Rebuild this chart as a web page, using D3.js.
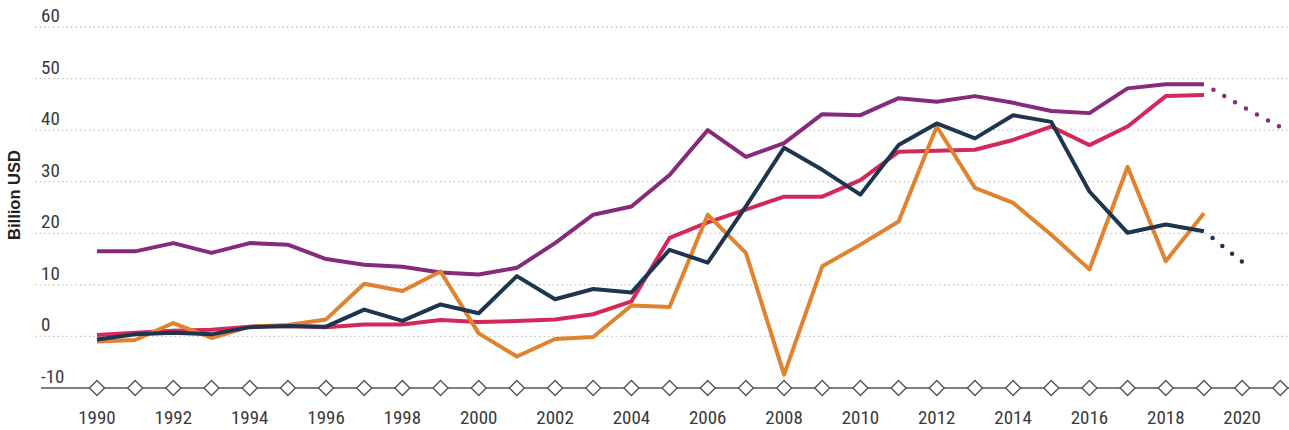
<!DOCTYPE html>
<html><head><meta charset="utf-8">
<script src="https://cdn.jsdelivr.net/npm/d3@7"></script>
<style>
html,body{margin:0;padding:0;background:#fff;}
svg{display:block;}
.lab{font-family:"Liberation Sans Narrow","Arial Narrow","Roboto Condensed","DejaVu Sans Condensed",sans-serif;font-size:19px;fill:#3a3a3a;}
</style></head>
<body>
<svg id="c" width="1289" height="430"></svg>
<script>
const years = d3.range(1990, 2020);
const axisYears = d3.range(1990, 2022);
const tickYears = d3.range(1990, 2021, 2);
const yTicks = [-10, 0, 10, 20, 30, 40, 50, 60];

const purple = [16.5,16.5,18.1,16.2,18.1,17.8,15.0,13.9,13.5,12.4,12.0,13.3,18.1,23.6,25.2,31.3,40.0,34.8,37.5,43.1,42.9,46.2,45.5,46.6,45.3,43.7,43.3,48.1,48.9,48.9];
const crimson = [0.3,0.7,1.1,1.3,1.9,2.0,1.8,2.3,2.3,3.2,2.8,3.0,3.3,4.3,6.8,19.1,22.1,24.6,27.1,27.1,30.3,35.8,36.0,36.2,38.1,40.7,37.1,40.7,46.6,46.8];
const navy = [-0.6,0.4,0.7,0.4,1.8,2.0,1.9,5.2,3.0,6.2,4.5,11.7,7.2,9.2,8.5,16.8,14.3,25.2,36.6,32.3,27.5,37.1,41.3,38.4,42.9,41.6,28.1,20.1,21.7,20.4];
const orange = [-1.0,-0.7,2.6,-0.3,1.9,2.2,3.3,10.2,8.8,12.6,0.6,-3.9,-0.5,-0.1,6.0,5.7,23.6,16.2,-7.4,13.6,17.8,22.3,40.7,28.8,25.9,19.7,13.0,32.9,14.6,23.9];

const purpleProjYears = [2019, 2020, 2021.15];
const purpleProj = [48.9, 44.6, 40.0];
const navyProjYears = [2019, 2020.2];
const navyProj = [20.4, 13.3];

const colors = {purple:"#862a7c", crimson:"#d4285a", navy:"#1e3550", orange:"#e0822e"};

const svg = d3.select("#c");
const x = d3.scaleLinear().domain([1990, 2021]).range([97, 1280.3]);
const y = d3.scaleLinear().domain([-10, 60]).range([388, 27]);

// gridlines
svg.append("g").selectAll("line").data(yTicks.filter(d => d > -10)).join("line")
  .attr("x1", 35).attr("x2", 1289)
  .attr("y1", d => y(d)).attr("y2", d => y(d))
  .attr("stroke", "#c4c4c4").attr("stroke-width", 1.3).attr("stroke-dasharray", "1.5,3");

// y labels
svg.append("g").selectAll("text").data(yTicks).join("text")
  .attr("class", "lab").attr("x", 41).attr("y", d => y(d) - 5).text(d => d);

// y title
svg.append("text").attr("transform", "translate(20,195) rotate(-90)")
  .attr("text-anchor", "middle")
  .style("font-family", "'Liberation Sans',Arial,sans-serif").style("font-weight", "bold")
  .style("font-size", "16.5px").style("fill", "#222").text("Billion USD");

const line = d3.line().x(d => x(d[0])).y(d => y(d[1]));
const series = [["purple", purple], ["crimson", crimson], ["orange", orange], ["navy", navy]];
series.forEach(([k, vals]) => {
  svg.append("path").datum(years.map((yr, i) => [yr, vals[i]]))
    .attr("d", line).attr("fill", "none").attr("stroke", colors[k])
    .attr("stroke-width", 4).attr("stroke-linejoin", "round");
});

[[purpleProjYears, purpleProj, colors.purple], [navyProjYears, navyProj, colors.navy]].forEach(([ys, vs, c]) => {
  svg.append("path").datum(ys.map((yr, i) => [yr, vs[i]]))
    .attr("d", line).attr("fill", "none").attr("stroke", c)
    .attr("stroke-width", 4.5).attr("stroke-linecap", "round").attr("stroke-dasharray", "0,12.5")
    .attr("stroke-dashoffset", -11);
});

// x axis
svg.append("line").attr("x1", 41).attr("x2", 1289).attr("y1", y(-10)).attr("y2", y(-10))
  .attr("stroke", "#555").attr("stroke-width", 1.5);
svg.append("g").selectAll("path").data(axisYears).join("path")
  .attr("d", d => `M${x(d)},${y(-10) - 7.5}L${x(d) + 7.5},${y(-10)}L${x(d)},${y(-10) + 7.5}L${x(d) - 7.5},${y(-10)}Z`)
  .attr("fill", "#fff").attr("stroke", "#555").attr("stroke-width", 1.4);
svg.append("g").selectAll("text").data(tickYears).join("text")
  .attr("class", "lab").attr("x", d => x(d)).attr("y", 424).attr("text-anchor", "middle").text(d => d);
</script>
</body></html>
